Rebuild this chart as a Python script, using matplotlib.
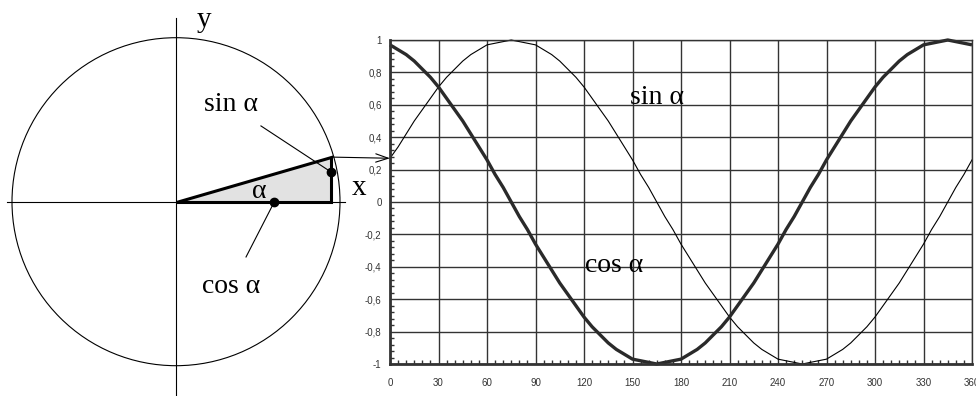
import numpy as np
import matplotlib
matplotlib.use("Agg")
import matplotlib.pyplot as plt
from matplotlib.patches import Circle, Polygon, ConnectionPatch
from matplotlib.ticker import MultipleLocator, FuncFormatter

# ---------------- data ----------------
angles = list(range(0, 361, 5))
sin_values = [0.27, 0.34, 0.42, 0.50, 0.57, 0.64, 0.71, 0.77, 0.82, 0.87,
              0.91, 0.94, 0.97, 0.98, 0.99, 1.00, 0.99, 0.98, 0.97, 0.94,
              0.91, 0.87, 0.82, 0.77, 0.71, 0.64, 0.57, 0.50, 0.42, 0.34,
              0.26, 0.17, 0.09, 0.00, -0.09, -0.17, -0.26, -0.34, -0.42, -0.50,
              -0.57, -0.64, -0.71, -0.77, -0.82, -0.87, -0.91, -0.94, -0.97, -0.98,
              -0.99, -1.00, -0.99, -0.98, -0.97, -0.94, -0.91, -0.87, -0.82, -0.77,
              -0.71, -0.64, -0.57, -0.50, -0.42, -0.34, -0.26, -0.17, -0.09, 0.00,
              0.09, 0.17, 0.26]
cos_values = [0.97, 0.94, 0.91, 0.87, 0.82, 0.77, 0.71, 0.64, 0.57, 0.50,
              0.42, 0.34, 0.26, 0.17, 0.09, 0.00, -0.09, -0.17, -0.26, -0.34,
              -0.42, -0.50, -0.57, -0.64, -0.71, -0.77, -0.82, -0.87, -0.91, -0.94,
              -0.97, -0.98, -0.99, -1.00, -0.99, -0.98, -0.97, -0.94, -0.91, -0.87,
              -0.82, -0.77, -0.71, -0.64, -0.57, -0.50, -0.42, -0.34, -0.26, -0.17,
              -0.09, 0.00, 0.09, 0.17, 0.26, 0.34, 0.42, 0.50, 0.57, 0.64,
              0.71, 0.77, 0.82, 0.87, 0.91, 0.94, 0.97, 0.98, 0.99, 1.00,
              0.99, 0.98, 0.97]
x_ticks = list(range(0, 361, 30))
y_ticks = [-1, -0.8, -0.6, -0.4, -0.2, 0, 0.2, 0.4, 0.6, 0.8, 1]

# unit-circle diagram geometry (in radius units)
tri_cos = 0.947
tri_sin = 0.272
sin_dot = (0.947, 0.18)
cos_dot = (0.60, 0.0)
sin_leader_end = (0.518, 0.462)
cos_leader_end = (0.427, -0.337)

serif = "Liberation Serif"
sans = "Liberation Sans"

fig = plt.figure(figsize=(9.76, 3.96), dpi=100)

# ---------------- left: unit circle ----------------
ax0 = fig.add_axes([0, 0, 390 / 976, 1])
ax0.set_xlim(-176 / 164, (390 - 176) / 164)
ax0.set_ylim(-(396 - 201.7) / 164, 201.7 / 164)
ax0.axis("off")

ax0.add_patch(Circle((0, 0), 1.0, fill=False, lw=0.8, ec="black"))
ax0.plot([-1.03, 1.03], [0, 0], color="black", lw=0.8)
ax0.plot([0, 0], [-1.18, 1.12], color="black", lw=0.8)
ax0.add_patch(Polygon([(0, 0), (tri_cos, 0), (tri_cos, tri_sin)], closed=True,
                      fc="#e2e2e2", ec="black", lw=2.2, joinstyle="miter"))
ax0.plot([sin_leader_end[0], sin_dot[0]], [sin_leader_end[1], sin_dot[1]],
         color="black", lw=0.8)
ax0.plot([cos_leader_end[0], cos_dot[0]], [cos_leader_end[1], cos_dot[1]],
         color="black", lw=0.8)
ax0.plot([sin_dot[0], cos_dot[0]], [sin_dot[1], cos_dot[1]], "o",
         color="black", ms=6)

ax0.text(0.335, 0.59, "sin α", family=serif, fontsize=20, ha="center", va="center")
ax0.text(0.335, -0.52, "cos α", family=serif, fontsize=20, ha="center", va="center")
ax0.text(0.51, 0.065, "α", family=serif, fontsize=20, ha="center", va="center")
ax0.text(1.119, 0.085, "x", family=serif, fontsize=21, ha="center", va="center")
ax0.text(0.171, 1.11, "y", family=serif, fontsize=21, ha="center", va="center")

# ---------------- right: curves ----------------
ax1 = fig.add_axes([390 / 976, 1 - 364 / 396, 582 / 976, 324 / 396])
ax1.set_xlim(0, 360)
ax1.set_ylim(-1, 1)
ax1.set_xticks(x_ticks)
ax1.set_yticks(y_ticks)
ax1.xaxis.set_minor_locator(MultipleLocator(5))
ax1.yaxis.set_minor_locator(MultipleLocator(0.04))
ax1.grid(True, which="major", color="#333333", lw=1.0)
ax1.set_axisbelow(True)

fmt = FuncFormatter(lambda v, p: ("%g" % round(v, 2)).replace(".", ","))
ax1.yaxis.set_major_formatter(fmt)
ax1.tick_params(which="major", direction="in", length=0, labelsize=7,
                labelcolor="#333333")
ax1.tick_params(axis="x", which="major", pad=10)
ax1.tick_params(axis="y", which="major", pad=6)
ax1.tick_params(which="minor", direction="in", length=3, width=1.0,
                color="#333333")
ax1.tick_params(which="minor", top=False, right=False)
for lab in ax1.get_xticklabels() + ax1.get_yticklabels():
    lab.set_family(sans)

for side in ["top", "right"]:
    ax1.spines[side].set_linewidth(1.0)
    ax1.spines[side].set_color("#333333")
for side in ["left", "bottom"]:
    ax1.spines[side].set_linewidth(2.0)
    ax1.spines[side].set_color("#333333")

ax1.plot(angles, sin_values, color="black", lw=0.8, clip_on=False)
ax1.plot(angles, cos_values, color="#2a2a2a", lw=2.4, clip_on=False,
         solid_capstyle="butt", solid_joinstyle="round")

ax1.text(165, 0.645, "sin α", family=serif, fontsize=20, ha="center", va="center")
ax1.text(138.6, -0.39, "cos α", family=serif, fontsize=20, ha="center", va="center")

# arrow from the triangle tip to the start of the sine curve
con = ConnectionPatch(xyA=(tri_cos, tri_sin), coordsA=ax0.transData,
                      xyB=(angles[0], sin_values[0]), coordsB=ax1.transData,
                      arrowstyle="->,head_length=0.9,head_width=0.3",
                      color="black", lw=0.8, shrinkA=0, shrinkB=0)
fig.add_artist(con)

fig.savefig("out.png", dpi=100)
